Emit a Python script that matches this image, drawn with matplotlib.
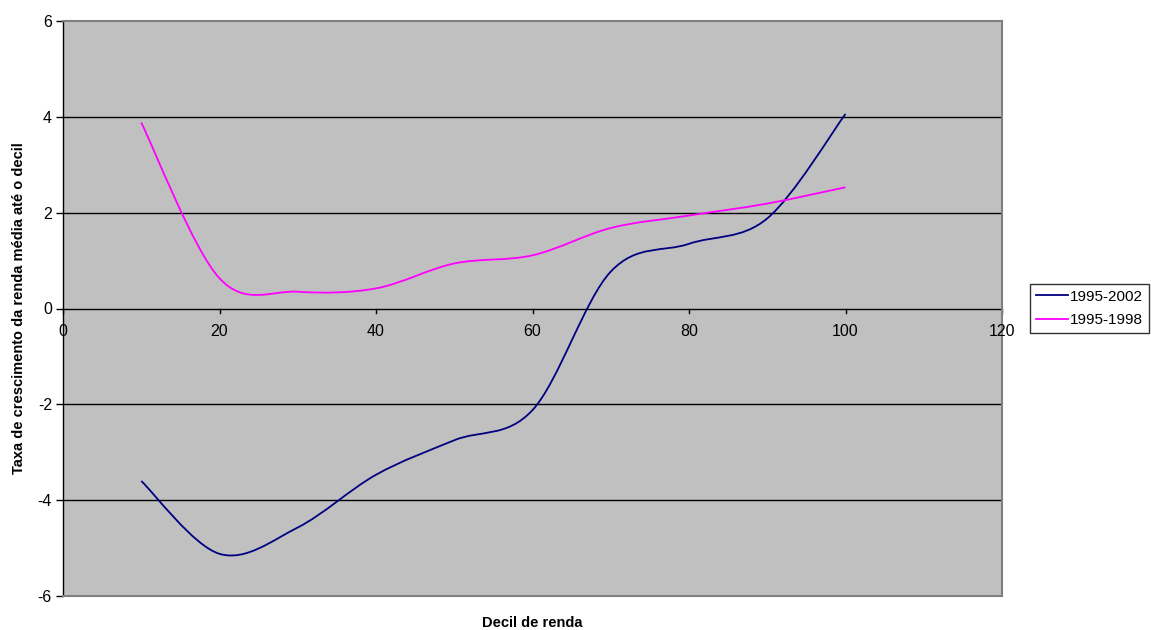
import matplotlib
matplotlib.use("Agg")
import matplotlib.pyplot as plt
from matplotlib.path import Path
from matplotlib.patches import PathPatch
from matplotlib.lines import Line2D
import numpy as np

plt.rcParams['font.family'] = ['Liberation Sans', 'DejaVu Sans']

deciles = [10, 20, 30, 40, 50, 60, 70, 80, 90, 100]
s_1995_2002 = [-3.60, -5.12, -4.57, -3.47, -2.75, -2.12, 0.77, 1.35, 1.88, 4.06]
s_1995_1998 = [3.88, 0.63, 0.35, 0.42, 0.94, 1.11, 1.68, 1.94, 2.19, 2.53]
series_names = ["1995-2002", "1995-1998"]
series_colors = ["#000080", "#FF00FF"]
x_ticks = [0, 20, 40, 60, 80, 100, 120]
y_ticks = [-6, -4, -2, 0, 2, 4, 6]

W, H = 1151, 630
fig = plt.figure(figsize=(W / 100, H / 100), dpi=100)
L, R, T, B = 63, 1002, 21, 596
ax = fig.add_axes([L / W, 1 - B / H, (R - L) / W, (B - T) / H])
ax.set_facecolor("#C0C0C0")
ax.set_xlim(0, 120)
ax.set_ylim(-6, 6)


def smooth_path(xs, ys):
    pts = np.column_stack([xs, ys]).astype(float)
    n = len(pts)
    verts = [pts[0]]
    codes = [Path.MOVETO]
    for i in range(n - 1):
        p0 = pts[i - 1] if i > 0 else pts[i]
        p1 = pts[i]
        p2 = pts[i + 1]
        p3 = pts[i + 2] if i + 2 < n else pts[i + 1]
        c1 = p1 + (p2 - p0) / 6.0
        c2 = p2 - (p3 - p1) / 6.0
        verts += [c1, c2, p2]
        codes += [Path.CURVE4] * 3
    return Path(verts, codes)


# gridlines
for y in [-4, -2, 2, 4]:
    ax.axhline(y, color="black", lw=1.0, zorder=1)

for ys, c in zip([s_1995_2002, s_1995_1998], series_colors):
    patch = PathPatch(smooth_path(deciles, ys), facecolor="none", edgecolor=c,
                      lw=1.3, zorder=3, transform=ax.transData)
    ax.add_patch(patch)

# spines
for s in ["top", "right", "bottom"]:
    ax.spines[s].set_color("#808080")
    ax.spines[s].set_linewidth(1.5)
ax.spines["left"].set_color("black")
ax.spines["left"].set_linewidth(1.0)

# x axis at y=0
ax.axhline(0, color="black", lw=1.0, zorder=2)
ax.set_xticks([])
ax.set_yticks(y_ticks)
ax.set_yticklabels([str(v) for v in y_ticks], fontsize=11.5)
ax.tick_params(axis="y", length=5, width=1, color="black", pad=3)

for xv in x_ticks:
    ax.plot([xv, xv], [0, -0.1], color="black", lw=1.0, clip_on=False, zorder=2)
    ax.annotate(str(xv), xy=(xv, 0), xytext=(0, -11.5), textcoords="offset points",
                ha="center", va="top", fontsize=11.5)

fig.text((L + R) / 2 / W, 1 - 623 / H, "Decil de renda", fontsize=10.5,
         fontweight="bold", ha="center", va="center")
ax.set_ylabel("Taxa de crescimento da renda média até o decil", fontsize=10.5,
              fontweight="bold", labelpad=8)

handles = [Line2D([], [], color=c, lw=1.3) for c in series_colors]
leg = fig.legend(handles, series_names, loc="upper left",
                 bbox_to_anchor=(1030 / W, 1 - 284 / H), fontsize=11,
                 frameon=True, fancybox=False, edgecolor="black",
                 handlelength=2.1, handletextpad=0.12, borderpad=0.38,
                 labelspacing=0.6, borderaxespad=0)
leg.get_frame().set_linewidth(1.0)

fig.savefig("out.png", dpi=100)
